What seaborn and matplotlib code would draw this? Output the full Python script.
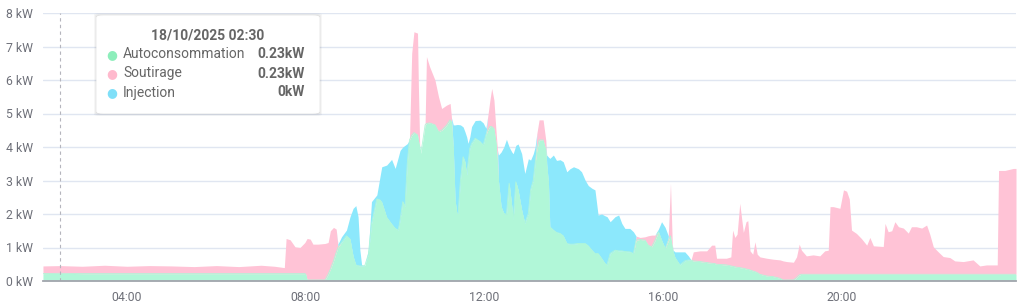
import numpy as np
import pandas as pd
import matplotlib
matplotlib.use("Agg")
import matplotlib.pyplot as plt
import seaborn as sns
from matplotlib.patches import FancyBboxPatch
from matplotlib.ticker import FuncFormatter

# ---------------- data (hours of 18/10/2025, kW) ----------------
hours = [2.12, 2.50, 3.00, 3.50, 4.00, 4.50, 5.00, 5.50, 6.00, 6.50, 7.00, 7.30, 7.52, 7.56, 7.65, 7.76, 7.87, 7.98,
         8.00, 8.03, 8.10, 8.16, 8.27, 8.43, 8.50, 8.55, 8.62, 8.68, 8.72, 8.80, 8.91, 8.99, 9.06, 9.12, 9.17, 9.21,
         9.25, 9.32, 9.40, 9.47, 9.59, 9.66, 9.70, 9.81, 9.92, 10.00, 10.07, 10.11, 10.17, 10.22, 10.27, 10.32,
         10.37, 10.42, 10.50, 10.52, 10.55, 10.57, 10.61, 10.67, 10.70, 10.77, 10.89, 10.97, 11.04, 11.15, 11.23,
         11.26, 11.30, 11.34, 11.38, 11.41, 11.46, 11.52, 11.56, 11.60, 11.63, 11.67, 11.71, 11.79, 11.90, 11.97,
         12.03, 12.07, 12.12, 12.16, 12.21, 12.26, 12.29, 12.31, 12.37, 12.43, 12.49, 12.55, 12.61, 12.64, 12.70,
         12.75, 12.83, 12.90, 12.98, 13.03, 13.09, 13.13, 13.17, 13.22, 13.31, 13.37, 13.39, 13.43, 13.46, 13.54,
         13.61, 13.69, 13.76, 13.84, 13.91, 13.99, 14.10, 14.17, 14.25, 14.32, 14.40, 14.47, 14.54, 14.62, 14.69,
         14.74, 14.81, 14.92, 15.00, 15.07, 15.14, 15.25, 15.33, 15.39, 15.48, 15.59, 15.66, 15.74, 15.81, 15.89,
         15.96, 16.04, 16.11, 16.16, 16.20, 16.22, 16.26, 16.37, 16.48, 16.56, 16.62, 16.67, 16.82, 16.97, 17.08,
         17.15, 17.19, 17.41, 17.51, 17.55, 17.60, 17.65, 17.71, 17.79, 17.85, 17.89, 17.94, 18.00, 18.05, 18.10,
         18.16, 18.31, 18.46, 18.61, 18.68, 18.76, 18.91, 18.98, 19.04, 19.09, 19.20, 19.35, 19.50, 19.61, 19.69,
         19.73, 19.80, 19.95, 20.03, 20.10, 20.16, 20.21, 20.32, 20.43, 20.55, 20.62, 20.70, 20.92, 20.96, 21.03,
         21.11, 21.18, 21.26, 21.37, 21.48, 21.55, 21.66, 21.78, 21.89, 21.96, 22.04, 22.15, 22.26, 22.41, 22.52,
         22.71, 22.93, 23.08, 23.23, 23.47, 23.50, 23.64, 23.83, 23.89]

autoconsommation = [.22, .23, .22, .22, .22, .22, .22, .22, .22, .22, .22, .22, .22, .22, .22, .22, .22, .22,
                    .20, .03, .03, .03, .03, .03, .20, .35, .60, .85, 1.00, 1.15, 1.35, 1.25, .73, .48, .46, .45,
                    .45, .46, .80, 1.70, 2.45, 2.42, 2.35, 1.90, 1.70, 1.57, 1.52, 1.82, 2.37, 2.22, 3.51, 4.21,
                    4.35, 4.43, 4.36, 4.20, 4.01, 3.81, 4.11, 4.66, 4.70, 4.72, 4.66, 4.46, 4.50, 4.65, 4.81,
                    4.75, 4.00, 2.42, 2.02, 2.02, 3.01, 3.71, 3.56, 3.16, 3.50, 3.96, 4.10, 4.26, 4.16, 4.06,
                    4.36, 4.50, 4.61, 4.61, 4.55, 4.11, 3.50, 3.01, 2.22, 2.02, 1.99, 2.92, 2.22, 1.82, 2.96,
                    2.72, 2.12, 1.72, 2.02, 2.72, 3.01, 3.50, 3.91, 4.21, 4.21, 3.91, 3.50, 2.92, 1.62, 1.52,
                    1.45, 1.42, 1.35, 1.12, 1.10, 1.10, 1.12, 1.12, 1.12, 1.05, .92, .82, .82, .67, .53,
                    .48, .82, .92, .90, .90, .88, .87, .82, 1.22, 1.24, 1.22, 1.07, 1.02, 1.20, 1.47,
                    1.22, .97, 1.20, 1.35, 1.00, .87, .70, .48, .60, .63, .62, .60, .58, .55, .53,
                    .52, .50, .48, .45, .44, .42, .41, .40, .38, .36, .35, .33, .30, .28, .25,
                    .20, .15, .13, .08, .03, .03, .03, .10, .18, .20, .20, .20, .20, .20, .20,
                    .20, .20, .20, .20, .20, .20, .20, .20, .20, .20, .20, .20, .20, .20, .20,
                    .20, .20, .20, .20, .20, .20, .20, .20, .20, .20, .20, .20, .20, .20, .20,
                    .20, .20, .20, .20, .20, .20, .20, .20, .20]

soutirage = [.23, .23, .22, .25, .22, .24, .23, .21, .24, .21, .25, .22, .18, 1.05, 1.01, .80, .78, .93,
             1.00, 1.24, 1.22, 1.07, 1.07, 1.09, .95, 1.15, 1.00, .70, .05, 0, 0, 0, 0, 0, 0, 0,
             0, 0, 0, 0, 0, 0, 0, 0, 0, 0, 0, 0, 0, 0, 0, 0,
             2.45, 3.01, 3.04, 1.60, 0, 0, 0, .04, 2.00, 1.68, 1.34, 1.04, .65, .60, .49,
             .12, 0, 0, 0, 0, 0, 0, 0, 0, 0, 0, 0, 0, 0, 0,
             0, .40, .79, 1.14, .85, .29, .40, 0, 0, 0, 0, 0, 0, 0, 0,
             0, 0, 0, 0, 0, 0, 0, .49, .60, .60, .29, 0, 0, 0, 0,
             0, 0, 0, 0, 0, 0, 0, 0, 0, 0, 0, 0, 0, 0, 0,
             0, 0, 0, 0, 0, 0, 0, 0, .12, .06, .10, .28, .35, .17, 0,
             0, 0, .10, 1.57, .10, 0, 0, 0, 0, 0, .01, .27, .32, .35, .54,
             .55, .18, .20, .27, 1.08, .88, .99, 1.92, 1.07, 1.41, 1.45, .57, .50, .89, .55,
             .52, .53, .52, .55, .57, .55, .53, .62, .92, .72, .55, .58, .55, .70, .72,
             2.02, 2.02, 1.97, 2.52, 2.48, 2.25, 1.32, 1.22, 1.07, .87, 1.10, .85, .83, 1.52, 1.27,
             1.30, 1.57, 1.42, 1.38, 1.23, 1.42, 1.42, 1.38, 1.47, 1.20, .82, .67, .53, .50, .40,
             .38, .43, .25, .28, .28, 3.10, 3.10, 3.16, 3.16]

injection = [0, 0, 0, 0, 0, 0, 0, 0, 0, 0, 0, 0, 0, 0, 0, 0, 0, 0,
             0, 0, 0, 0, 0, 0, 0, 0, 0, 0, .05, .17, .17, .67, 1.44, 1.77, 1.46, .48,
             .03, 0, .13, .67, .12, .69, 1.06, 1.56, 1.93, 1.79, 2.18, 2.08, 1.63, 1.83, .59, 0,
             0, 0, 0, 0, 0, 0, 0, 0, 0, 0, 0, 0, 0, 0, 0,
             0, .66, 2.24, 2.65, 2.65, 1.65, .89, .90, 1.14, .61, .34, .51, .53, .64, .66,
             .20, 0, 0, 0, 0, 0, 0, .75, 1.63, 1.98, 2.24, 1.08, 1.63, 1.98, 1.09,
             1.37, 1.68, 1.49, 1.63, .89, .79, .50, 0, 0, 0, 0, .26, .78, 2.04, 2.24,
             2.15, 2.20, 2.21, 2.14, 2.25, 2.31, 2.23, 2.14, 1.89, 1.80, 1.85, 1.90, 1.15, 1.33, 1.42,
             1.44, .95, 1.00, 1.07, .82, .69, .70, .65, 0, 0, 0, 0, 0, 0, .08,
             .55, .63, .05, 0, 0, .05, .17, .39, .27, .12, 0, 0, 0, 0, 0,
             0, 0, 0, 0, 0, 0, 0, 0, 0, 0, 0, 0, 0, 0, 0,
             0, 0, 0, 0, 0, 0, 0, 0, 0, 0, 0, 0, 0, 0, 0,
             0, 0, 0, 0, 0, 0, 0, 0, 0, 0, 0, 0, 0, 0, 0,
             0, 0, 0, 0, 0, 0, 0, 0, 0, 0, 0, 0, 0, 0, 0,
             0, 0, 0, 0, 0, 0, 0, 0, 0]

series_names = ["Autoconsommation", "Soutirage", "Injection"]
series_colors = ["#b1f7d8", "#ffc3d6", "#8ce8fc"]
dot_colors = ["#8deebb", "#ffb9cd", "#7fdff8"]
y_ticks = [0, 1, 2, 3, 4, 5, 6, 7, 8]
x_ticks = [4, 8, 12, 16, 20]
tooltip_title = "18/10/2025 02:30"
tooltip_values = ["0.23kW", "0.23kW", "0kW"]
cursor_hour = 2.5

# ---------------- figure ----------------
sns.set_theme(style="white")
plt.rcParams["font.family"] = ["Roboto", "DejaVu Sans"]

W, H = 1024, 306
fig = plt.figure(figsize=(W / 100, H / 100), dpi=100)
ax = fig.add_axes([43 / W, 1 - 281 / H, (1016 - 43) / W, (281 - 13) / H])

df = pd.DataFrame({"hour": hours, "auto": autoconsommation,
                   "sout": soutirage, "inj": injection})
df["top_auto"] = df["auto"]
df["top_sout"] = df["auto"] + df["sout"]
df["top_inj"] = df["top_sout"] + df["inj"]

ax.fill_between(df["hour"], 0, df["top_auto"], color=series_colors[0], lw=0, zorder=2)
ax.fill_between(df["hour"], df["top_auto"], df["top_sout"], where=df["top_sout"] >= df["top_auto"],
                color=series_colors[1], lw=0, zorder=2, interpolate=True)
ax.fill_between(df["hour"], df["top_sout"], df["top_inj"], color=series_colors[2], lw=0, zorder=2)
sns.lineplot(data=df, x="hour", y="top_auto", color=series_colors[0], lw=0.6, ax=ax, zorder=3)
sns.lineplot(data=df, x="hour", y="top_inj", color=series_colors[1], lw=0.0, ax=ax, zorder=1)

ax.set_xlim(2.121, 23.89)
ax.set_ylim(0, 8)
ax.set_yticks(y_ticks)
ax.yaxis.set_major_formatter(FuncFormatter(lambda v, p: f"{int(v)} kW"))
ax.set_xticks(x_ticks)
ax.xaxis.set_major_formatter(FuncFormatter(lambda v, p: f"{int(v):02d}:00"))
ax.set_xlabel("")
ax.set_ylabel("")
ax.grid(axis="y", color="#e0e6f1", lw=1, zorder=0)
ax.grid(axis="x", visible=False)
for s in ["top", "right", "left"]:
    ax.spines[s].set_visible(False)
ax.spines["bottom"].set_color("#a3a5ad")
ax.spines["bottom"].set_linewidth(1.3)
ax.spines["bottom"].set_zorder(5)
ax.tick_params(axis="y", length=0, labelsize=8.8, labelcolor="#6e7079", pad=7)
ax.tick_params(axis="x", length=4, width=1, color="#a3a5ad", labelsize=8.8, labelcolor="#6e7079",
               pad=3, direction="out")

# cursor line
ax.axvline(cursor_hour, color="#b5b5bd", lw=0.8, ls=(0, (3, 3)), zorder=4)

# tooltip
def fx(px):
    return px / W

def fy(py):
    return 1 - py / H

for off, a in [(3, 0.035), (2, 0.045), (1, 0.06)]:
    fig.patches.append(FancyBboxPatch((fx(97 - off), fy(113 + off)), fx(222 + 2 * off), (97 + 2 * off) / H,
                                      boxstyle="round,pad=0,rounding_size=0.006", transform=fig.transFigure,
                                      fc="black", ec="none", alpha=a, zorder=9))
fig.patches.append(FancyBboxPatch((fx(97), fy(113)), fx(222), 97 / H,
                                  boxstyle="round,pad=0,rounding_size=0.006", transform=fig.transFigure,
                                  fc="white", ec="#ffffff", lw=1, zorder=10))
fig.text(fx(208), fy(35), tooltip_title, ha="center", va="center", fontsize=10,
         fontweight="bold", color="#666666", zorder=11)
rows_y = [54.5, 73.5, 92.5]
for name, val, c, ry in zip(series_names, tooltip_values, dot_colors, rows_y):
    fig.text(fx(112), fy(ry), "●", ha="center", va="center", fontsize=9, color=c, zorder=11,
             family="DejaVu Sans")
    fig.text(fx(123), fy(ry), name, ha="left", va="center", fontsize=10, color="#666666", zorder=11)
    fig.text(fx(305), fy(ry), val, ha="right", va="center", fontsize=10, fontweight="bold",
             color="#666666", zorder=11)

fig.savefig("out.png", dpi=100)
